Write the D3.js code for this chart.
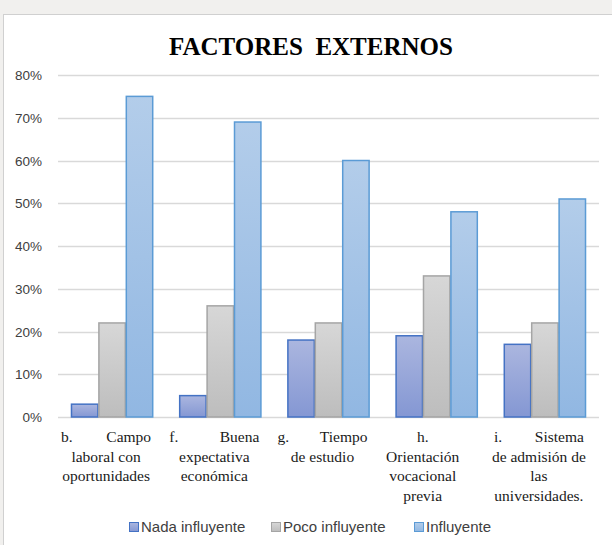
<!DOCTYPE html>
<html>
<head>
<meta charset="utf-8">
<script src="https://cdn.jsdelivr.net/npm/d3@7"></script>
<style>
  body { margin: 0; background: #f1f0ee; }
  #vis1 { position: absolute; left: 0; top: 0; }
</style>
</head>
<body>
<div id="vis1"></div>
<script>
const FRAME_HEIGHT = 545;
const FRAME_WIDTH = 612;
const MARGINS = {left: 58, right: 13, top: 75, bottom: 128};

// data
const categories = ["b", "f", "g", "h", "i"];
const catLabels = [
	["b.", "Campo", "laboral con", "oportunidades"],
	["f.", "Buena", "expectativa", "económica"],
	["g.", "Tiempo", "de estudio"],
	[null, "h.", "Orientación", "vocacional", "previa"],
	["i.", "Sistema", "de admisión de", "las", "universidades."]
];
const series = ["Nada influyente", "Poco influyente", "Influyente"];
const nada = [0.03, 0.05, 0.18, 0.19, 0.17];
const poco = [0.22, 0.26, 0.22, 0.33, 0.22];
const influyente = [0.75, 0.69, 0.60, 0.48, 0.51];
const yTicks = [0, 0.1, 0.2, 0.3, 0.4, 0.5, 0.6, 0.7, 0.8];

const values = [nada, poco, influyente];
const fills = [
	{top: "#abb6df", bottom: "#8497d3", stroke: "#4472c4"},
	{top: "#d7d7d7", bottom: "#bdbdbd", stroke: "#a5a5a5"},
	{top: "#b3cdea", bottom: "#91b7e2", stroke: "#5b9bd5"}
];

const VIS_HEIGHT = FRAME_HEIGHT - MARGINS.top - MARGINS.bottom;
const VIS_WIDTH = FRAME_WIDTH - MARGINS.left - MARGINS.right;

const FRAME1 = d3.select("#vis1")
	.append("svg")
		.attr("height", FRAME_HEIGHT)
		.attr("width", FRAME_WIDTH);

// white chart panel
FRAME1.append("rect")
	.attr("x", 3.5)
	.attr("y", 14.5)
	.attr("width", FRAME_WIDTH)
	.attr("height", FRAME_HEIGHT)
	.attr("fill", "#ffffff")
	.attr("stroke", "#d0d0d0");

// gradients
const defs = FRAME1.append("defs");
fills.forEach((f, i) => {
	const g = defs.append("linearGradient")
		.attr("id", "grad" + i)
		.attr("x1", 0).attr("y1", 0).attr("x2", 0).attr("y2", 1);
	g.append("stop").attr("offset", "0%").attr("stop-color", f.top);
	g.append("stop").attr("offset", "100%").attr("stop-color", f.bottom);
});

const X_SCALE = d3.scaleBand()
	.domain(categories)
	.range([MARGINS.left, MARGINS.left + VIS_WIDTH])
	.paddingInner(0.24)
	.paddingOuter(0.12);

const X_SUB = d3.scaleBand()
	.domain(d3.range(series.length))
	.range([0, X_SCALE.bandwidth()]);

const Y_SCALE = d3.scaleLinear()
	.domain([0, 0.8])
	.range([MARGINS.top + VIS_HEIGHT, MARGINS.top]);

// title
FRAME1.append("text")
	.attr("x", 311)
	.attr("y", 55)
	.attr("text-anchor", "middle")
	.attr("font-family", "'Liberation Serif', 'Times New Roman', serif")
	.attr("font-weight", "bold")
	.attr("font-size", 25)
	.attr("xml:space", "preserve")
	.text("FACTORES  EXTERNOS");

// gridlines
FRAME1.selectAll(".grid")
	.data(yTicks)
	.enter()
	.append("line")
		.attr("x1", MARGINS.left)
		.attr("x2", MARGINS.left + VIS_WIDTH)
		.attr("y1", (d) => Math.round(Y_SCALE(d)) + 0.5)
		.attr("y2", (d) => Math.round(Y_SCALE(d)) + 0.5)
		.attr("stroke", "#d9d9d9")
		.attr("stroke-width", 1.3);

// y tick labels
FRAME1.selectAll(".ylab")
	.data(yTicks)
	.enter()
	.append("text")
		.attr("x", 42)
		.attr("y", (d) => Y_SCALE(d) + 5)
		.attr("text-anchor", "end")
		.attr("font-family", "'Liberation Sans', Arial, sans-serif")
		.attr("font-size", 13.5)
		.attr("fill", "#404040")
		.text((d) => d3.format(".0%")(d));

// bars
const groups = FRAME1.selectAll(".grp")
	.data(categories)
	.enter()
	.append("g")
		.attr("transform", (d) => "translate(" + X_SCALE(d) + ",0)");

groups.selectAll("rect")
	.data((d, ci) => values.map((v, si) => ({si: si, v: v[ci]})))
	.enter()
	.append("rect")
		.attr("x", (d) => X_SUB(d.si) + 0.5)
		.attr("y", (d) => Y_SCALE(d.v))
		.attr("width", X_SUB.bandwidth() - 1)
		.attr("height", (d) => Y_SCALE(0) - Y_SCALE(d.v))
		.attr("fill", (d) => "url(#grad" + d.si + ")")
		.attr("stroke", (d) => fills[d.si].stroke)
		.attr("stroke-width", 1.5);

// category labels (justified first line, rest centred)
const LABEL_W = 90;
const labelFont = "'Liberation Serif', 'Times New Roman', serif";
categories.forEach((c, ci) => {
	const shift = (c === "h") ? -14 : -6;
	const cx = X_SCALE(c) + X_SCALE.bandwidth() / 2 + shift;
	const lab = catLabels[ci];
	const g = FRAME1.append("g")
		.attr("font-family", labelFont)
		.attr("font-size", 15.5)
		.attr("fill", "#1a1a1a");
	let line = 0;
	let rest = lab;
	if (lab[0] !== null) {
		g.append("text")
			.attr("x", cx - LABEL_W / 2)
			.attr("y", 442)
			.text(lab[0]);
		g.append("text")
			.attr("x", cx + LABEL_W / 2)
			.attr("y", 442)
			.attr("text-anchor", "end")
			.text(lab[1]);
		rest = lab.slice(2);
		line = 1;
	} else {
		rest = lab.slice(1);
	}
	rest.forEach((t, k) => {
		g.append("text")
			.attr("x", cx)
			.attr("y", 442 + (line + k) * 19.5)
			.attr("text-anchor", "middle")
			.text(t);
	});
});

// legend
const legendX = [129, 271, 414];
series.forEach((s, i) => {
	FRAME1.append("rect")
		.attr("x", legendX[i] + 0.5)
		.attr("y", 522.5)
		.attr("width", 9)
		.attr("height", 9)
		.attr("fill", "url(#grad" + i + ")")
		.attr("stroke", fills[i].stroke);
	FRAME1.append("text")
		.attr("x", legendX[i] + 12)
		.attr("y", 532)
		.attr("font-family", "'Liberation Sans', Arial, sans-serif")
		.attr("font-size", 15)
		.attr("fill", "#404040")
		.text(s);
});
</script>
</body>
</html>
